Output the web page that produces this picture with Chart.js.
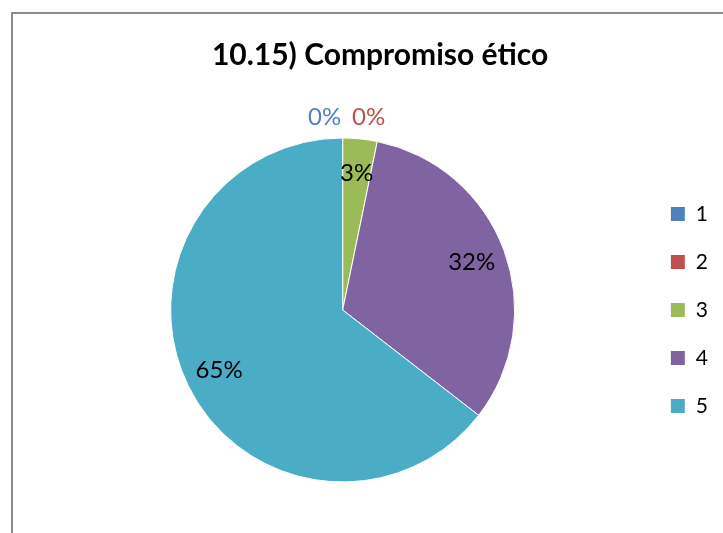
<!DOCTYPE html>
<html>
<head>
<meta charset="utf-8">
<script src="https://cdn.jsdelivr.net/npm/chart.js@4.4.0/dist/chart.umd.min.js"></script>
<style>
  html, body { margin: 0; padding: 0; background: #fff; overflow: hidden; width: 723px; height: 533px; }
  #frame {
    position: absolute; left: 11px; top: 12px;
    width: 715px; height: 533px;
    border-left: 2px solid #8c8c8c; border-top: 2px solid #8c8c8c;
    background: #fff;
  }
</style>
</head>
<body>
<div id="frame"><canvas id="pieChart" width="715" height="533"></canvas></div>
<script>
// datos del grafico
const chartTitle = '10.15) Compromiso ético';
const categorias = ['1', '2', '3', '4', '5'];
const valores = [0, 0, 1, 10, 20];
const colores = ['#4F81BD', '#C0504D', '#9BBB59', '#8064A2', '#4BACC6'];

const FONT = 'Lato, "Open Sans", sans-serif';

// etiquetas de porcentaje sobre cada sector
const etiquetasPlugin = {
  id: 'etiquetas',
  afterDatasetsDraw(chart) {
    const ctx = chart.ctx;
    const meta = chart.getDatasetMeta(0);
    const total = valores.reduce((a, b) => a + b, 0);
    let ceros = 0;
    ctx.save();
    ctx.font = '24px ' + FONT;
    ctx.textAlign = 'center';
    ctx.textBaseline = 'middle';
    meta.data.forEach((arc, i) => {
      const p = arc.getProps(['x', 'y', 'startAngle', 'endAngle', 'outerRadius'], true);
      const txt = Math.round(valores[i] / total * 100) + '%';
      if (valores[i] === 0) {
        // sectores vacios: etiqueta fuera, arriba del pastel
        ctx.fillStyle = colores[i];
        ctx.fillText(txt, p.x - 18 + ceros * 44, p.y - p.outerRadius - 20.5);
        ceros++;
        return;
      }
      const mid = (p.startAngle + p.endAngle) / 2;
      const r = p.outerRadius * 0.8;
      ctx.fillStyle = '#000';
      ctx.fillText(txt, p.x + Math.cos(mid) * r, p.y + Math.sin(mid) * r);
    });
    ctx.restore();
  }
};

new Chart(document.getElementById('pieChart'), {
  type: 'pie',
  data: {
    labels: categorias,
    datasets: [{
      data: valores,
      backgroundColor: colores,
      borderColor: '#ffffff',
      borderWidth: 1
    }]
  },
  options: {
    responsive: false,
    animation: false,
    layout: { padding: { left: 29, right: 10, top: 0, bottom: 64.5 } },
    plugins: {
      title: {
        display: true,
        text: chartTitle,
        color: '#000',
        font: { family: FONT, size: 30, weight: 'bold', lineHeight: 1.2 },
        padding: { top: 23, bottom: 64.5 }
      },
      legend: {
        position: 'right',
        fullSize: false,
        labels: {
          boxWidth: 15,
          boxHeight: 15,
          padding: 27,
          color: '#000',
          font: { family: FONT, size: 21 }
        }
      },
      tooltip: { enabled: false }
    }
  },
  plugins: [etiquetasPlugin]
});
</script>
</body>
</html>
